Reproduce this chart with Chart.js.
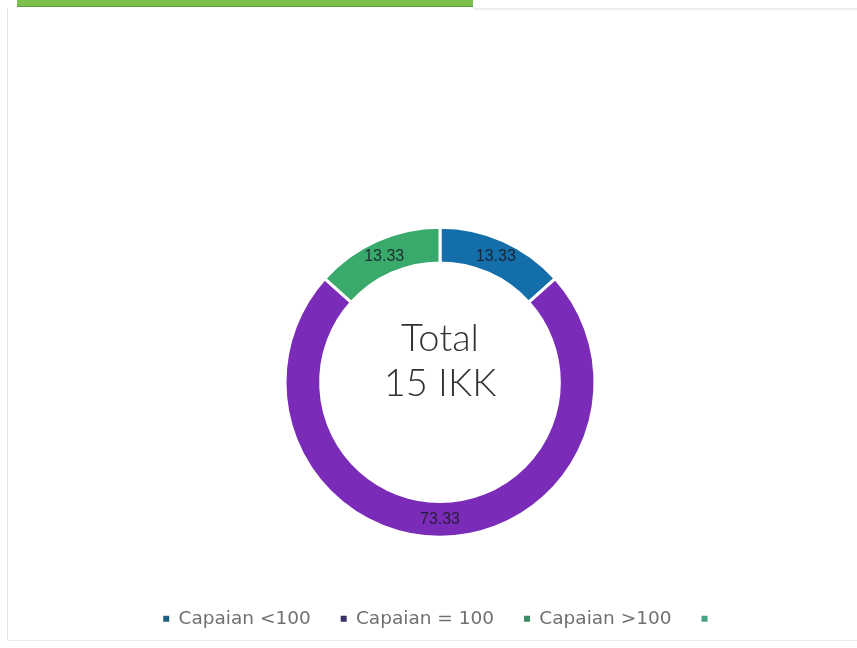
<!DOCTYPE html>
<html lang="id">
<head>
  <meta charset="UTF-8">
  <title>Capaian IKK</title>
  <style>
    body {
      margin: 0;
      padding: 0;
      background: #ffffff;
      font-family: 'DejaVu Sans', Arial, sans-serif;
    }

    .page {
      position: relative;
      width: 857px;
      height: 648px;
      overflow: hidden;
    }

    /* card frame around the chart */
    .tab-bar {
      position: absolute;
      left: 17px;
      top: 0;
      width: 456px;
      height: 6px;
      background: #7bc14c;
      border-bottom: 1px solid #5e9a3c;
    }
    .line-top {
      position: absolute;
      left: 473px;
      right: 0;
      top: 8px;
      height: 2px;
      background: #ededed;
    }
    .line-left {
      position: absolute;
      left: 7px;
      top: 8px;
      width: 1px;
      height: 632px;
      background: #e4e4e4;
    }
    .line-bottom {
      position: absolute;
      left: 7px;
      right: 0;
      top: 640px;
      height: 1px;
      background: #ececec;
    }

    canvas#ikkChart {
      position: absolute;
      left: 0;
      top: 0;
    }
  </style>
</head>
<body>
  <div class="page">
    <canvas id="ikkChart" width="857" height="648"></canvas>
    <div class="tab-bar"></div>
    <div class="line-top"></div>
    <div class="line-left"></div>
    <div class="line-bottom"></div>
  </div>

  <script src="https://cdn.jsdelivr.net/npm/chart.js"></script>

  <script>
    // capaian IKK in percent of the total
    const categories = ['Capaian <100', 'Capaian = 100', 'Capaian >100', ''];
    const percentages = [13.33, 73.33, 13.33, 0];
    const totalIkk = 15;

    const sliceColors = ['#136ea9', '#7a2cb8', '#39a96c', '#3fb08a'];
    const legendColors = ['#1d5f80', '#3b2f66', '#3c8d66', '#42a57f'];

    // value of each slice, written in the middle of the ring
    const sliceLabels = {
      id: 'sliceLabels',
      afterDatasetsDraw(chart) {
        const ctx = chart.ctx;
        const meta = chart.getDatasetMeta(0);
        ctx.save();
        ctx.font = '16px "Liberation Sans", Arial, sans-serif';
        ctx.fillStyle = 'rgba(25, 25, 35, 0.85)';
        ctx.textAlign = 'center';
        ctx.textBaseline = 'middle';
        meta.data.forEach((arc, i) => {
          const v = percentages[i];
          if (!v) return;
          const pos = arc.tooltipPosition();
          ctx.fillText(v.toFixed(2), pos.x, pos.y);
        });
        ctx.restore();
      }
    };

    // "Total / 15 IKK" in the hole
    const centerText = {
      id: 'centerText',
      afterDraw(chart) {
        const ctx = chart.ctx;
        const arc = chart.getDatasetMeta(0).data[0];
        if (!arc) return;
        ctx.save();
        ctx.font = '300 38px Lato, "Open Sans", sans-serif';
        ctx.fillStyle = '#333333';
        ctx.textAlign = 'center';
        ctx.textBaseline = 'alphabetic';
        ctx.fillText('Total', arc.x, arc.y - 31);
        ctx.fillText(totalIkk + ' IKK', arc.x, arc.y + 14);
        ctx.restore();
      }
    };

    new Chart(document.getElementById('ikkChart'), {
      type: 'doughnut',
      data: {
        labels: categories,
        datasets: [{
          data: percentages,
          backgroundColor: sliceColors,
          borderColor: '#ffffff',
          borderWidth: 3,
          hoverOffset: 0,
          radius: 155
        }]
      },
      options: {
        responsive: false,
        animation: false,
        cutout: '77%',
        layout: {
          padding: { left: 23, right: 0, top: 185, bottom: 10 }
        },
        plugins: {
          tooltip: { enabled: false },
          legend: {
            position: 'bottom',
            labels: {
              boxWidth: 6,
              boxHeight: 6,
              padding: 30,
              color: '#707070',
              font: { family: "'DejaVu Sans', Arial, sans-serif", size: 18.5 },
              generateLabels() {
                return categories.map((c, i) => ({
                  text: c,
                  fillStyle: legendColors[i],
                  strokeStyle: legendColors[i],
                  fontColor: '#707070',
                  lineWidth: 0,
                  hidden: false,
                  index: i
                }));
              }
            }
          }
        }
      },
      plugins: [sliceLabels, centerText]
    });
  </script>
</body>
</html>
